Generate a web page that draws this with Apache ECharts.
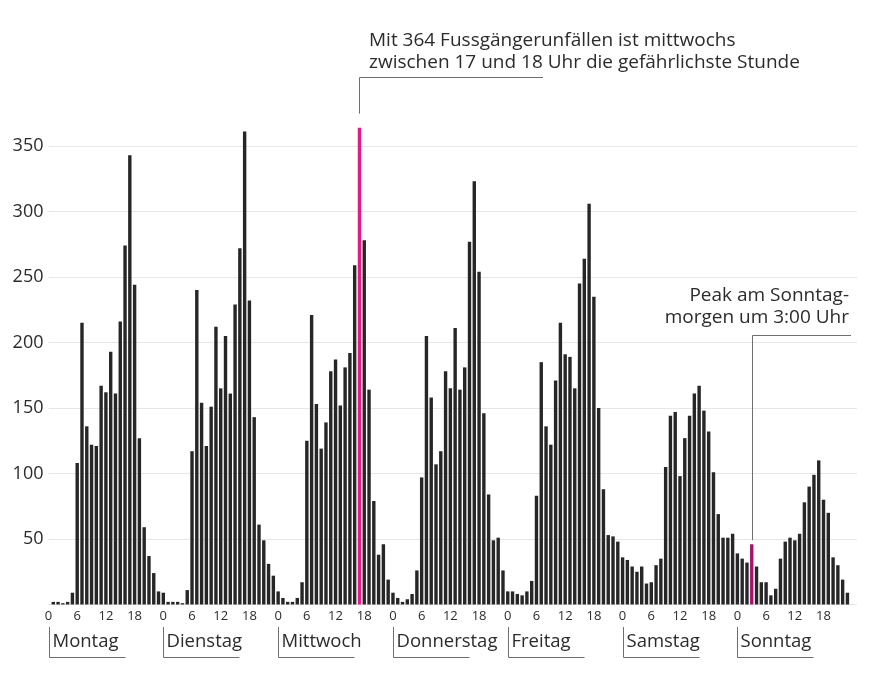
<!DOCTYPE html>
<html>
<head>
<meta charset="utf-8">
<script src="https://cdn.jsdelivr.net/npm/echarts@6/dist/echarts.min.js"></script>
<style>
  html, body { margin: 0; padding: 0; background: #fff; }
  #chart { width: 873px; height: 679px; }
</style>
</head>
<body>
<div id="chart"></div>
<script>
// Fussgängerunfälle pro Stunde und Wochentag
var days = ['Montag', 'Dienstag', 'Mittwoch', 'Donnerstag', 'Freitag', 'Samstag', 'Sonntag'];

var montag     = [0, 2, 2, 1, 2, 9, 108, 215, 136, 122, 121, 167, 162, 193, 161, 216, 274, 343, 244, 127, 59, 37, 24, 10];
var dienstag   = [9, 2, 2, 2, 1, 11, 117, 240, 154, 121, 151, 212, 165, 205, 161, 229, 272, 361, 232, 143, 61, 49, 31, 22];
var mittwoch   = [10, 5, 2, 2, 5, 17, 125, 221, 153, 119, 139, 178, 187, 152, 181, 192, 259, 364, 278, 164, 79, 38, 46, 19];
var donnerstag = [9, 5, 2, 4, 8, 26, 97, 205, 158, 107, 117, 178, 165, 211, 164, 181, 277, 323, 254, 146, 84, 49, 51, 26];
var freitag    = [10, 10, 8, 7, 10, 18, 83, 185, 136, 122, 171, 215, 191, 189, 165, 245, 264, 306, 235, 150, 88, 53, 52, 48];
var samstag    = [36, 34, 29, 25, 29, 16, 17, 30, 35, 105, 144, 147, 98, 127, 144, 161, 167, 148, 132, 101, 69, 51, 51, 54];
var sonntag    = [39, 35, 32, 46, 29, 17, 17, 7, 12, 35, 48, 51, 49, 54, 78, 90, 99, 110, 80, 70, 36, 30, 19, 9];

var weekData = [montag, dienstag, mittwoch, donnerstag, freitag, samstag, sonntag];
var yTicks = [50, 100, 150, 200, 250, 300, 350];

// hervorgehobene Stunden
var peakDay = 2, peakHour = 17;      // Mittwoch 17-18 Uhr
var sundayDay = 6, sundayHour = 3;   // Sonntag 3:00 Uhr

var textColor = '#2b2b2b';
var fontFamily = '"Open Sans", "Noto Sans", sans-serif';

var seriesData = [];
weekData.forEach(function (values, d) {
    values.forEach(function (v, h) {
        var item = { value: [d * 24 + h, v] };
        if (d === peakDay && h === peakHour) item.itemStyle = { color: '#e6198a' };
        if (d === sundayDay && h === sundayHour) item.itemStyle = { color: '#a3146f' };
        seriesData.push(item);
    });
});

var chart = echarts.init(document.getElementById('chart'));

var option = {
    animation: false,
    grid: { left: 48.5, right: 16, top: 146, bottom: 74.5 },
    xAxis: {
        type: 'value',
        min: 0,
        max: 169,
        interval: 6,
        axisLine: { show: false },
        axisTick: { show: false },
        splitLine: { show: false },
        axisLabel: {
            color: textColor,
            fontFamily: fontFamily,
            fontSize: 13,
            margin: 5,
            formatter: function (v) {
                if (v % 6 !== 0 || v >= 168) return '';
                return String(v % 24);
            }
        }
    },
    yAxis: {
        type: 'value',
        min: 0,
        max: 350,
        interval: 50,
        axisLine: { show: false },
        axisTick: { show: false },
        splitLine: { lineStyle: { color: '#e6e6e6', width: 1 } },
        axisLabel: {
            color: textColor,
            fontFamily: fontFamily,
            fontSize: 18,
            margin: 5,
            formatter: function (v) {
                return yTicks.indexOf(v) >= 0 ? String(v) : '';
            }
        }
    },
    series: [{
        type: 'bar',
        data: seriesData,
        barWidth: 3.4,
        clip: false,
        itemStyle: { color: '#262626' }
    }]
};

chart.setOption(option);

// Beschriftungen, Wochentage und Hinweislinien
var graphic = [];
var lineStyle = { stroke: '#6e6e6e', lineWidth: 1 };
function px(x, y) { return chart.convertToPixel({ gridIndex: 0 }, [x, y]); }
function crisp(v) { return Math.round(v) + 0.5; }

days.forEach(function (name, d) {
    var x0 = crisp(px(d * 24, 0)[0]);
    graphic.push({ type: 'line', shape: { x1: x0, y1: 627, x2: x0, y2: 657.5 }, style: lineStyle });
    graphic.push({ type: 'line', shape: { x1: x0, y1: 657.5, x2: x0 + 76, y2: 657.5 }, style: lineStyle });
    graphic.push({
        type: 'text', x: x0 + 3, y: 642,
        style: { text: name, fontSize: 18.5, fontFamily: fontFamily, fill: textColor, align: 'left', verticalAlign: 'middle' }
    });
});

var peakPt = px(peakDay * 24 + peakHour, weekData[peakDay][peakHour]);
var px1 = crisp(peakPt[0]);
graphic.push({ type: 'line', shape: { x1: px1, y1: 77.5, x2: px1, y2: peakPt[1] - 14 }, style: lineStyle });
graphic.push({ type: 'line', shape: { x1: px1, y1: 77.5, x2: 543, y2: 77.5 }, style: lineStyle });
graphic.push({
    type: 'text', x: 369, y: 51.5,
    style: {
        text: 'Mit 364 Fussgängerunfällen ist mittwochs\nzwischen 17 und 18 Uhr die gefährlichste Stunde',
        fontSize: 19, lineHeight: 21.7, fontFamily: fontFamily, fill: textColor,
        align: 'left', verticalAlign: 'middle'
    }
});

var sunPt = px(sundayDay * 24 + sundayHour, weekData[sundayDay][sundayHour]);
var px2 = crisp(sunPt[0]);
graphic.push({ type: 'line', shape: { x1: px2, y1: 335.5, x2: px2, y2: sunPt[1] - 4 }, style: lineStyle });
graphic.push({ type: 'line', shape: { x1: px2, y1: 335.5, x2: 851, y2: 335.5 }, style: lineStyle });
graphic.push({
    type: 'text', x: 849, y: 307,
    style: {
        text: 'Peak am Sonntag-\nmorgen um 3:00 Uhr',
        fontSize: 19, lineHeight: 22, fontFamily: fontFamily, fill: textColor,
        align: 'right', verticalAlign: 'middle'
    }
});

chart.setOption({ graphic: graphic });
</script>
</body>
</html>
